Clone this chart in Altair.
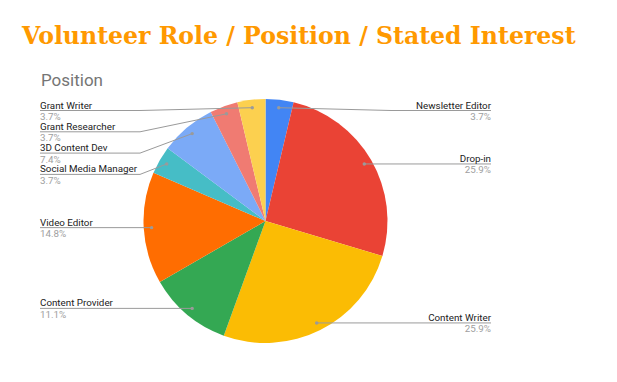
import math
import altair as alt
import pandas as pd

# ---- data ----
roles = ["Newsletter Editor", "Drop-in", "Content Writer", "Content Provider",
         "Video Editor", "Social Media Manager", "3D Content Dev",
         "Grant Researcher", "Grant Writer"]
counts = [1, 7, 7, 3, 4, 1, 2, 1, 1]
colors = ["#4285F4", "#EA4335", "#FBBC04", "#34A853", "#FF6D01",
          "#46BDC6", "#7BAAF7", "#F07B72", "#FCD04F"]
chart_title = "Volunteer Role / Position / Stated Interest"
chart_subtitle = "Position"

# ---- layout constants (pixels) ----
W, H = 617, 382
PAD_TOP = 55
CX, CY = 265.5, 221.0      # pie centre on the page
R = 122                    # pie radius
DOT_R = 0.935 * R          # leader dot radius
ELBOW = 125.5              # leader elbow distance from centre
EDGE = 225.5               # label edge distance from centre
TOP = CY - 110.5           # highest label line
GAP = 21.3                 # min spacing between label lines

total = sum(counts)
rows = []
cum = 0
for i, (r, c) in enumerate(zip(roles, counts)):
    a = (cum + c / 2) / total * 2 * math.pi
    cum += c
    dx = DOT_R * math.sin(a)
    dy = DOT_R * math.cos(a)
    rows.append(dict(role=r, count=c, idx=i, pct=f"{100 * c / total:.1f}%",
                     dot_x=dx, dot_y=dy, side="right" if dx > 0 else "left"))

for side in ("left", "right"):
    items = sorted([d for d in rows if d["side"] == side], key=lambda d: -d["dot_y"])
    prev = None
    sgn = 1 if side == "right" else -1
    for d in items:
        ly = min(d["dot_y"], TOP if prev is None else prev - GAP)
        d["label_y"] = ly
        prev = ly
        d["elbow_x"] = sgn * ELBOW
        d["edge_x"] = sgn * EDGE

df = pd.DataFrame(rows)

line_rows = []
for d in rows:
    line_rows.append(dict(role=d["role"], pt=0, x=d["dot_x"], y=d["dot_y"]))
    line_rows.append(dict(role=d["role"], pt=1, x=d["elbow_x"], y=d["label_y"]))
    line_rows.append(dict(role=d["role"], pt=2, x=d["edge_x"], y=d["label_y"]))
lines_df = pd.DataFrame(line_rows)

VH = H - PAD_TOP
xs = alt.Scale(domain=[-CX, W - CX], nice=False, zero=False)
ys = alt.Scale(domain=[CY - H, CY - PAD_TOP], nice=False, zero=False)

arcs = alt.Chart(df).mark_arc(outerRadius=R).encode(
    theta=alt.Theta("count:Q", stack=True),
    color=alt.Color("role:N", scale=alt.Scale(domain=roles, range=colors), legend=None),
    order=alt.Order("idx:Q"),
    x=alt.XDatum(0, type="quantitative", scale=xs, axis=None),
    y=alt.YDatum(0, type="quantitative", scale=ys, axis=None),
)

leaders = alt.Chart(lines_df).mark_line(color="#9a9a9a", strokeWidth=1).encode(
    x=alt.X("x:Q", scale=xs, axis=None),
    y=alt.Y("y:Q", scale=ys, axis=None),
    detail="role:N",
    order="pt:Q",
)

dots = alt.Chart(df).mark_circle(color="#9a9a9a", size=12, opacity=1).encode(
    x=alt.X("dot_x:Q", scale=xs, axis=None),
    y=alt.Y("dot_y:Q", scale=ys, axis=None),
)

FONT = "Roboto"
FS = 9.8


def label_layer(side, field, color, dy):
    return alt.Chart(df).transform_filter(alt.datum.side == side).mark_text(
        align="left" if side == "left" else "right", baseline="alphabetic",
        font=FONT, fontSize=FS, color=color, dy=dy,
    ).encode(
        x=alt.X("edge_x:Q", scale=xs, axis=None),
        y=alt.Y("label_y:Q", scale=ys, axis=None),
        text=f"{field}:N",
    )


names_l = label_layer("left", "role", "#222222", -2)
names_r = label_layer("right", "role", "#222222", -2)
pcts_l = label_layer("left", "pct", "#9e9e9e", 9.5)
pcts_r = label_layer("right", "pct", "#9e9e9e", 9.5)

sub = alt.Chart(pd.DataFrame({"t": [chart_subtitle]})).mark_text(
    align="left", baseline="alphabetic", font=FONT, fontSize=17, color="#757575"
).encode(x=alt.value(41), y=alt.value(86 - PAD_TOP), text="t:N")

chart = alt.layer(arcs, leaders, dots, names_l, names_r, pcts_l, pcts_r, sub).properties(
    width=W, height=VH,
    title=alt.TitleParams(text=chart_title, anchor="start", frame="group",
                          font="DejaVu Serif", fontSize=23.6, fontWeight="bold",
                          color="#ff9900", offset=6, dx=22),
    autosize=alt.AutoSizeParams(type="none"),
    padding={"left": 0, "top": PAD_TOP, "right": 0, "bottom": 0},
    background="white",
).configure_view(stroke=None, strokeWidth=0)

chart.save("out.html", embed_options={"renderer": "svg", "actions": False})
